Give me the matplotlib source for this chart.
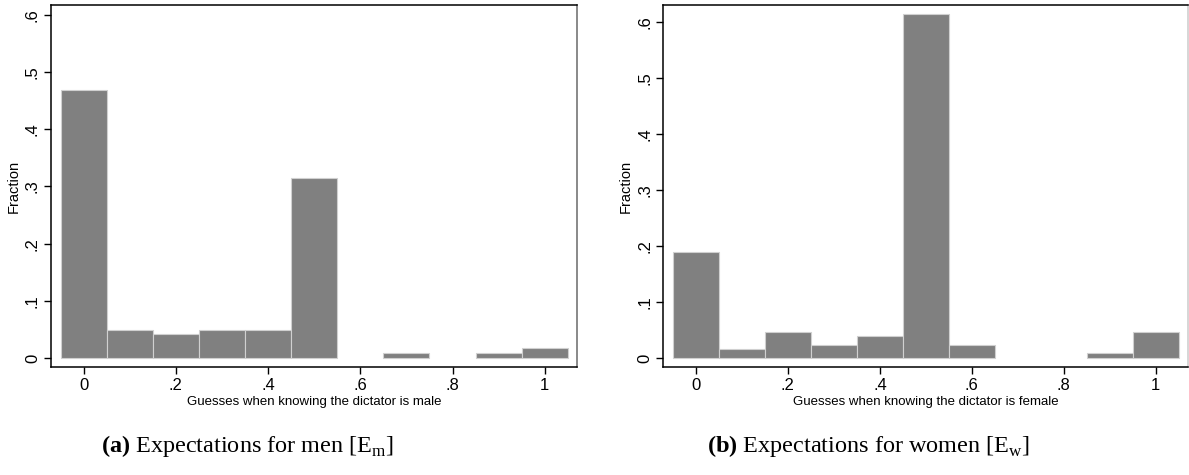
import matplotlib.pyplot as plt

plt.rcParams['font.family'] = ['Liberation Sans', 'DejaVu Sans']
plt.rcParams['mathtext.fontset'] = 'custom'
plt.rcParams['mathtext.rm'] = 'Liberation Serif'
plt.rcParams['mathtext.bf'] = 'Liberation Serif:bold'

# Bin centres (guesses) and fractions
bins = [0.0, 0.1, 0.2, 0.3, 0.4, 0.5, 0.6, 0.7, 0.8, 0.9, 1.0]
frac_male = [0.469, 0.0497, 0.0427, 0.0497, 0.0497, 0.3147, 0.0, 0.0094, 0.0, 0.0094, 0.0175]
frac_female = [0.1897, 0.0161, 0.0465, 0.024, 0.0388, 0.6144, 0.024, 0.0, 0.0, 0.0089, 0.0465]

xticks = [0, 0.2, 0.4, 0.6, 0.8, 1.0]
xticklabels = ['0', '.2', '.4', '.6', '.8', '1']
yticks = [0, 0.1, 0.2, 0.3, 0.4, 0.5, 0.6]
yticklabels = ['0', '.1', '.2', '.3', '.4', '.5', '.6']

xlabels = ['Guesses when knowing the dictator is male',
           'Guesses when knowing the dictator is female']
captions = [r'$\mathbf{(a)}$ Expectations for men [E$_\mathrm{m}$]',
            r'$\mathbf{(b)}$ Expectations for women [E$_\mathrm{w}$]']

fig = plt.figure(figsize=(11.89, 4.75), dpi=100)
ax1 = fig.add_axes([51 / 1189, 1 - 367.3 / 475, (577 - 51) / 1189, (367.3 - 5) / 475])
ax2 = fig.add_axes([663.3 / 1189, 1 - 367.3 / 475, (1188 - 663.3) / 1189, (367.3 - 5.3) / 475])

panels = [(ax1, frac_male, (-0.0163, 0.6175), 'dimgray'),
          (ax2, frac_female, (-0.0166, 0.6305), '#cccccc')]

for i, (ax, vals, ylim, rcol) in enumerate(panels):
    # empty bins draw nothing
    xs = [b for b, v in zip(bins, vals) if v > 0]
    hs = [v for v in vals if v > 0]
    ax.bar(xs, hs, width=0.1, color='#808080', edgecolor='#d0d0d0', linewidth=0.8)
    ax.set_xlim(-0.071, 1.07)
    ax.set_ylim(*ylim)
    ax.set_xticks(xticks)
    ax.set_xticklabels(xticklabels, fontsize=12)
    ax.set_yticks(yticks)
    ax.set_yticklabels(yticklabels, fontsize=12, rotation=90, va='center')
    ax.tick_params(direction='out', length=5, width=1, pad=3)
    ax.set_ylabel('Fraction', fontsize=10.5, labelpad=3)
    ax.set_xlabel(xlabels[i], fontsize=9.5, labelpad=2)
    for s in ['left', 'bottom', 'top']:
        ax.spines[s].set_linewidth(1.1)
    ax.spines['right'].set_color(rcol)
    ax.spines['right'].set_linewidth(1.1)

fig.text(248 / 1189, 1 - 446 / 475, captions[0], fontsize=17.5, family='Liberation Serif',
         ha='center', va='center')
fig.text(869 / 1189, 1 - 446 / 475, captions[1], fontsize=17.5, family='Liberation Serif',
         ha='center', va='center')

fig.savefig('out.png', dpi=100)
